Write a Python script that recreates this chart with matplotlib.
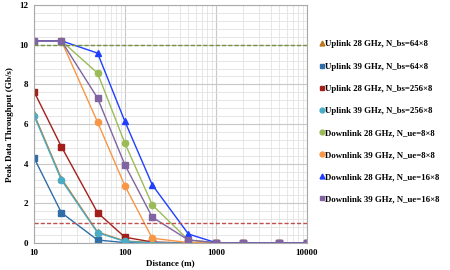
import matplotlib.pyplot as plt
from matplotlib.ticker import MultipleLocator, LogLocator, NullFormatter

distance = [10, 20, 50, 100, 200, 500, 1000, 2000, 5000, 10000]

ul28_64 = [6.5, 3.25, 0.55, 0.1, 0.02, 0, 0, 0, 0, 0]
ul39_64 = [4.3, 1.53, 0.15, 0.02, 0, 0, 0, 0, 0, 0]
ul28_256 = [7.64, 4.86, 1.53, 0.29, 0.05, 0, 0, 0, 0, 0]
ul39_256 = [6.43, 3.18, 0.52, 0.08, 0.01, 0, 0, 0, 0, 0]
dl28_8 = [10.2, 10.2, 8.57, 5.03, 1.92, 0.15, 0.01, 0, 0, 0]
dl39_8 = [10.2, 10.2, 6.1, 2.88, 0.24, 0.02, 0, 0, 0, 0]
dl28_16 = [10.2, 10.2, 9.58, 6.13, 2.93, 0.45, 0.02, 0, 0, 0]
dl39_16 = [10.2, 10.2, 7.31, 3.94, 1.3, 0.15, 0.02, 0, 0, 0]

labels = ["Uplink 28 GHz, N_bs=64×8", "Uplink 39 GHz, N_bs=64×8",
          "Uplink 28 GHz, N_bs=256×8", "Uplink 39 GHz, N_bs=256×8",
          "Downlink 28 GHz, N_ue=8×8", "Downlink 39 GHz, N_ue=8×8",
          "Downlink 28 GHz, N_ue=16×8", "Downlink 39 GHz, N_ue=16×8"]
series = [ul28_64, ul39_64, ul28_256, ul39_256, dl28_8, dl39_8, dl28_16, dl39_16]
colors = ["#C0761E", "#2F6EA6", "#A3201A", "#4BACC6",
          "#9BBB59", "#F79646", "#1F3FFF", "#8064A2"]
markers = ["^", "s", "s", "o", "o", "o", "^", "s"]

plt.rcParams["font.family"] = ["Liberation Serif", "DejaVu Serif"]
plt.rcParams["font.weight"] = "bold"

fig = plt.figure(figsize=(4.5, 2.7), dpi=100)
ax = fig.add_axes([0.0756, 0.1, 0.606, 0.881])

for y, lab, c, m in zip(series, labels, colors, markers):
    ax.plot(distance, y, color=c, marker=m, markersize=4.5, linewidth=1.0, label=lab)

ax.axhline(10, color="#76923C", linestyle="--", linewidth=1.0, dashes=(3, 1.5))
ax.axhline(1, color="#C0504D", linestyle="--", linewidth=1.0, dashes=(3, 1.5))

ax.set_xscale("log")
ax.set_xlim(10, 10000)
ax.set_ylim(0, 12)
ax.yaxis.set_major_locator(MultipleLocator(2))
ax.yaxis.set_minor_locator(MultipleLocator(0.4))
ax.xaxis.set_minor_locator(LogLocator(base=10, subs=range(2, 10)))
ax.xaxis.set_minor_formatter(NullFormatter())
ax.set_xticks([10, 100, 1000, 10000])
ax.set_xticklabels(["10", "100", "1000", "10000"])

ax.grid(True, which="major", color="#C8C8C8", linewidth=0.8)
ax.grid(True, which="minor", color="#E2E2E2", linewidth=0.6)
ax.set_axisbelow(True)
for s in ax.spines.values():
    s.set_color("#AAAAAA")
ax.tick_params(which="both", length=0, labelsize=6.5, pad=4)

ax.set_xlabel("Distance (m)", fontsize=6.5, fontweight="bold", labelpad=2)
ax.set_ylabel("Peak Data Throughput (Gb/s)", fontsize=6.5, fontweight="bold", labelpad=4)

leg = ax.legend(loc="upper left", bbox_to_anchor=(1.02, 0.885), frameon=False,
                fontsize=6.3, handlelength=0.5, handletextpad=0.1,
                labelspacing=1.6, borderaxespad=0.5)
for h in leg.legend_handles:
    h.set_linestyle("none")
    h.set_markersize(3.5)

fig.savefig("out.png", dpi=100)
